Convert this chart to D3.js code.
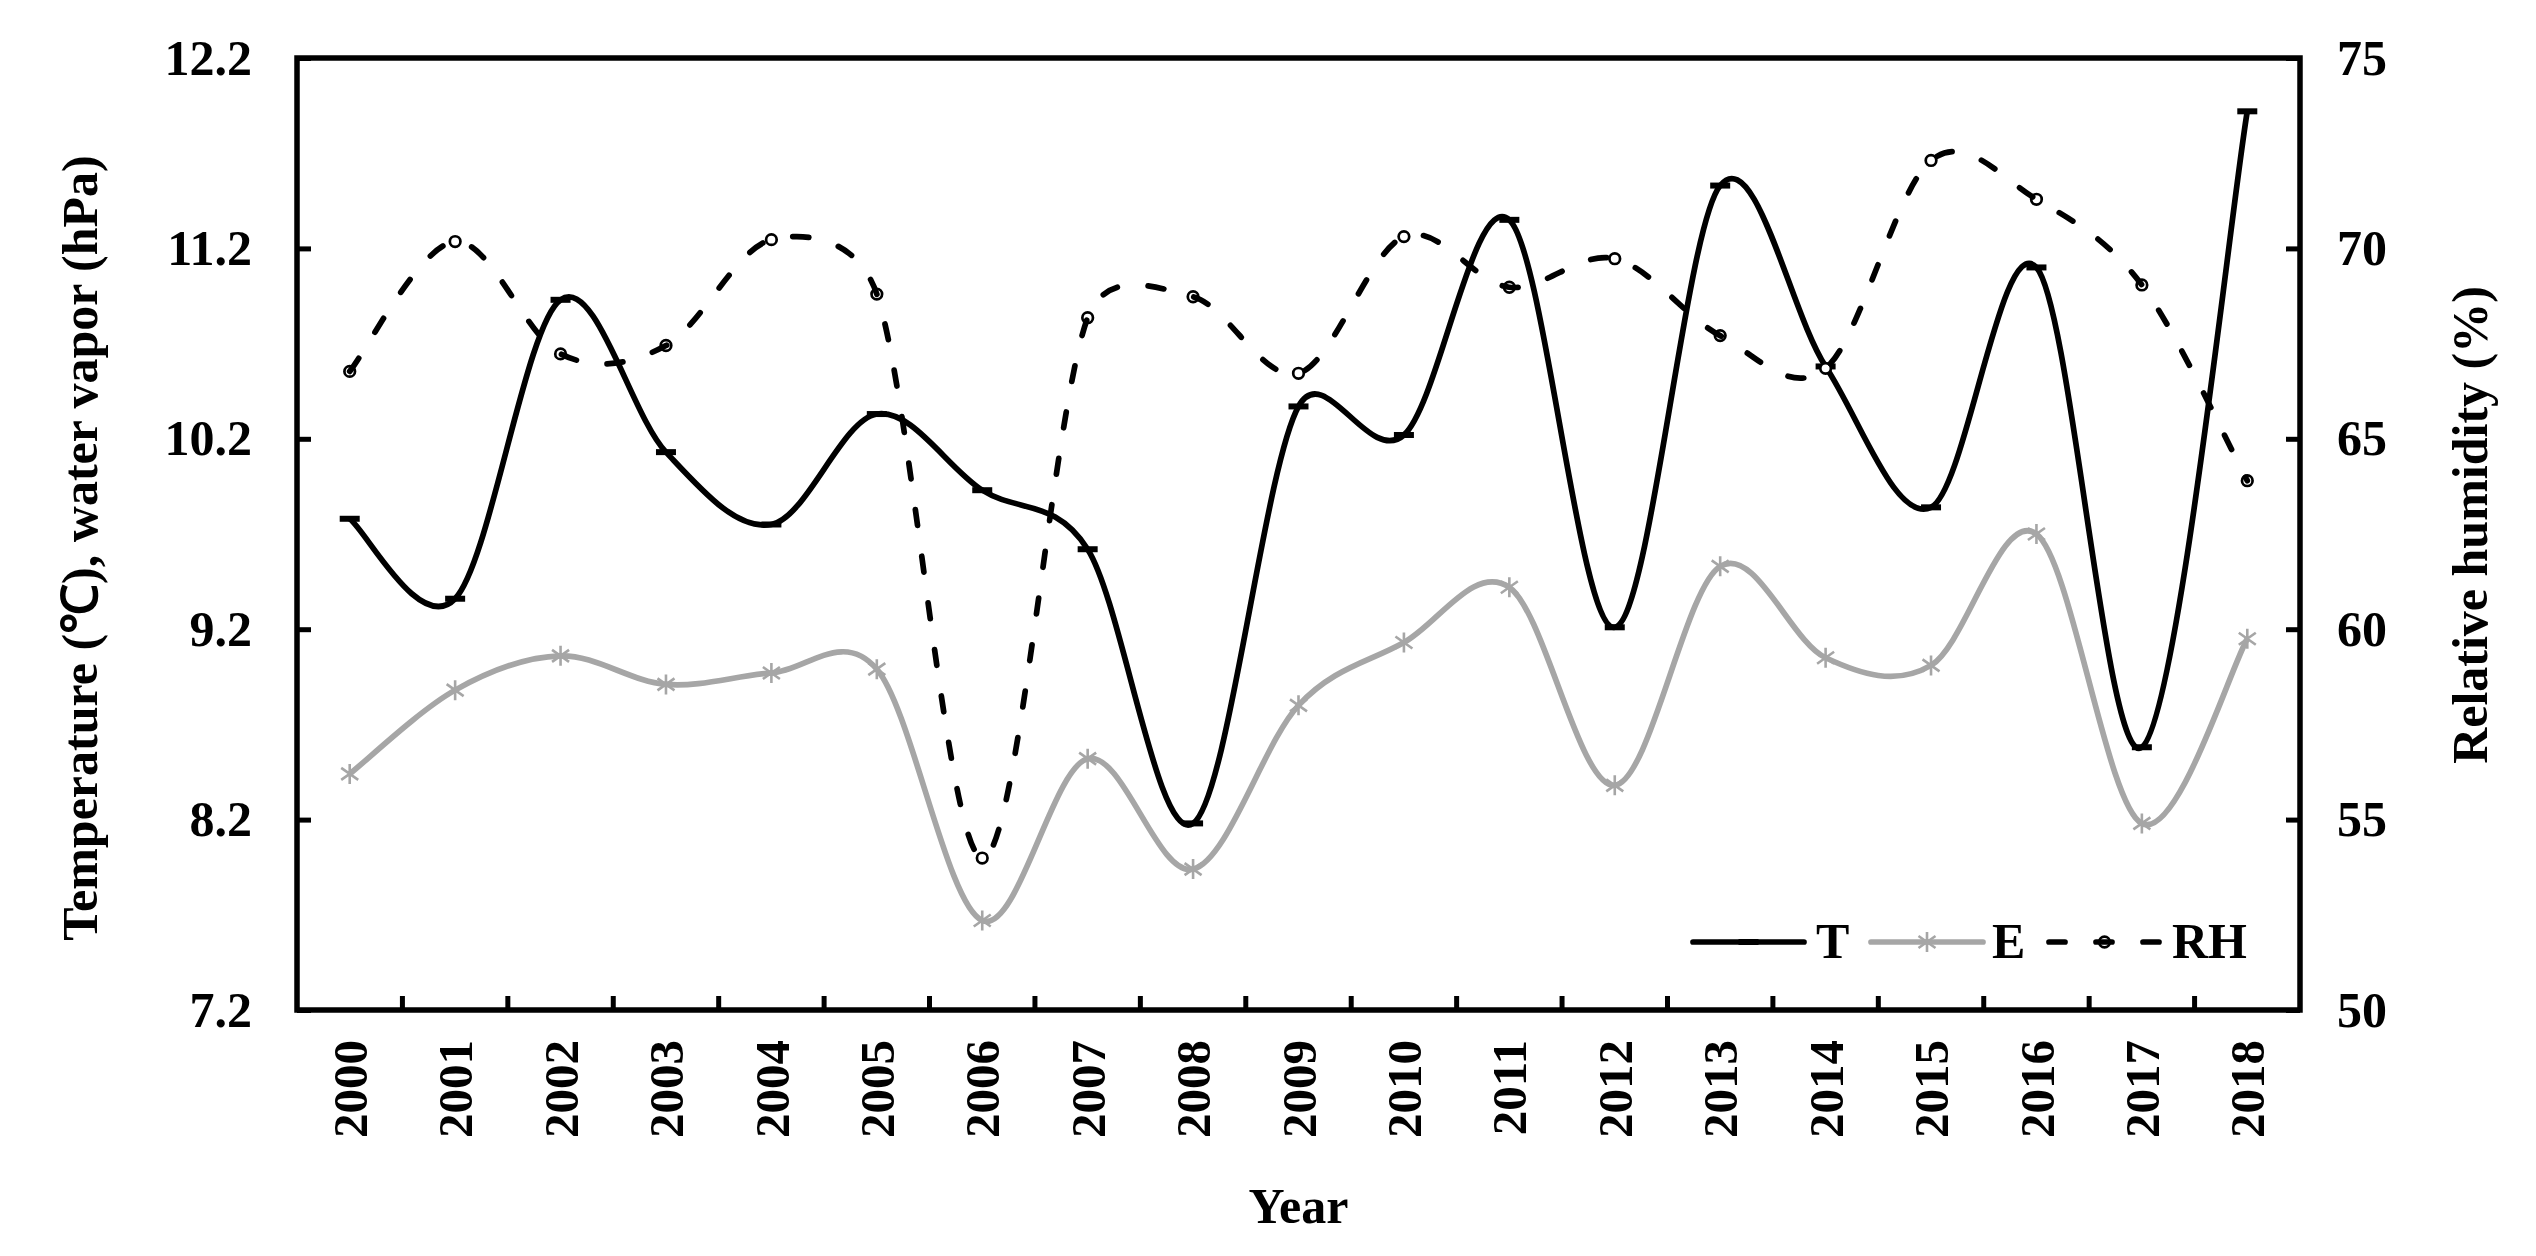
<!DOCTYPE html>
<html>
<head>
<meta charset="utf-8">
<script src="https://cdn.jsdelivr.net/npm/d3@7"></script>
<style>
  html, body { margin: 0; padding: 0; background: #fff; }
  text { font-family: "Liberation Serif", "Times New Roman", serif; font-weight: bold; fill: #000; }
</style>
</head>
<body>
<div id="chart"></div>
<script>
// data
const years = ["2000","2001","2002","2003","2004","2005","2006","2007","2008","2009",
               "2010","2011","2012","2013","2014","2015","2016","2017","2018"];
const tempT = [9.78, 9.36, 10.93, 10.13, 9.75, 10.33, 9.93, 9.62, 8.18, 10.37,
               10.22, 11.35, 9.21, 11.53, 10.58, 9.84, 11.10, 8.58, 11.92];
const vaporE = [8.44, 8.88, 9.06, 8.91, 8.97, 8.99, 7.67, 8.52, 7.94, 8.80,
                9.13, 9.42, 8.38, 9.53, 9.05, 9.01, 9.70, 8.18, 9.15];
const humidityRH = [66.77, 70.18, 67.23, 67.45, 70.23, 68.80, 53.99, 68.18, 68.73, 66.72,
                    70.31, 68.98, 69.73, 67.71, 66.85, 72.31, 71.29, 69.04, 63.90];
const leftTicks = [7.2, 8.2, 9.2, 10.2, 11.2, 12.2];
const rightTicks = [50, 55, 60, 65, 70, 75];

const width = 2536, height = 1256;
const plot = { left: 297, right: 2300, top: 58, bottom: 1010 };
const grey = "#a6a6a6";

// Excel-like smoothed line: cubic bezier, control arms 1/6, clamped to half the segment
function ExcelSmooth(context) { this._context = context; }
ExcelSmooth.prototype = {
  areaStart() {}, areaEnd() {},
  lineStart() { this._pts = []; },
  point(x, y) { this._pts.push([+x, +y]); },
  lineEnd() {
    const p = this._pts, c = this._context, n = p.length;
    if (!n) return;
    const dist = (a, b) => Math.hypot(b[0] - a[0], b[1] - a[1]);
    c.moveTo(p[0][0], p[0][1]);
    for (let i = 0; i < n - 1; i++) {
      const p0 = p[Math.max(i - 1, 0)], p1 = p[i], p2 = p[i + 1], p3 = p[Math.min(i + 2, n - 1)];
      const d12 = dist(p1, p2), d02 = dist(p0, p2), d13 = dist(p1, p3);
      const f = d02 / 6 < d12 / 2 ? 1 / 6 : d12 / (2 * d02);
      const g = d13 / 6 < d12 / 2 ? 1 / 6 : d12 / (2 * d13);
      c.bezierCurveTo(
        p1[0] + f * (p2[0] - p0[0]), p1[1] + f * (p2[1] - p0[1]),
        p2[0] - g * (p3[0] - p1[0]), p2[1] - g * (p3[1] - p1[1]),
        p2[0], p2[1]);
    }
  }
};
const curveExcel = ctx => new ExcelSmooth(ctx);

const svg = d3.select("#chart").append("svg")
  .attr("width", width)
  .attr("height", height);

svg.append("rect").attr("width", width).attr("height", height).attr("fill", "#fff");

// scales
const x = d3.scaleBand().domain(years).range([plot.left, plot.right]).padding(0);
const yL = d3.scaleLinear().domain([7.2, 12.2]).range([plot.bottom, plot.top]);
const yR = d3.scaleLinear().domain([50, 75]).range([plot.bottom, plot.top]);
const cx = d => x(d) + x.bandwidth() / 2;

// axes
const axisStyle = g => {
  g.select(".domain").remove();
  g.selectAll(".tick line").attr("stroke", "#000").attr("stroke-width", 5);
  g.selectAll(".tick text").attr("font-size", 50);
};

svg.append("g")
  .attr("transform", `translate(${plot.left},0)`)
  .call(d3.axisLeft(yL).tickValues(leftTicks).tickSize(-14).tickPadding(45).tickFormat(d3.format(".1f")))
  .call(axisStyle);

svg.append("g")
  .attr("transform", `translate(${plot.right},0)`)
  .call(d3.axisRight(yR).tickValues(rightTicks).tickSize(-14).tickPadding(37))
  .call(axisStyle);

const xAxis = svg.append("g")
  .attr("transform", `translate(0,${plot.bottom})`)
  .call(d3.axisBottom(x).tickSize(0))
  .call(axisStyle);
xAxis.selectAll(".tick text")
  .attr("font-size", 49)
  .attr("transform", "rotate(-90)")
  .attr("x", -30)
  .attr("y", 0)
  .attr("dy", "0.35em")
  .attr("text-anchor", "end");

// category separators (inward ticks on the bottom edge)
svg.append("g").selectAll("line")
  .data(years.slice(1))
  .join("line")
  .attr("x1", d => x(d)).attr("x2", d => x(d))
  .attr("y1", plot.bottom).attr("y2", plot.bottom - 14)
  .attr("stroke", "#000").attr("stroke-width", 5);

// axis titles
svg.append("text")
  .attr("transform", "translate(80,548) rotate(-90)")
  .attr("text-anchor", "middle")
  .attr("dominant-baseline", "central")
  .attr("font-size", 50)
  .text("Temperature (℃), water vapor (hPa)");

svg.append("text")
  .attr("transform", "translate(2470,525) rotate(-90)")
  .attr("text-anchor", "middle")
  .attr("dominant-baseline", "central")
  .attr("font-size", 50)
  .text("Relative humidity (%)");

svg.append("text")
  .attr("x", (plot.left + plot.right) / 2)
  .attr("y", 1223)
  .attr("text-anchor", "middle")
  .attr("font-size", 50)
  .text("Year");

// marker shapes
const dashMarker = (g, px, py) => g.append("rect")
  .attr("x", px - 10).attr("y", py - 3).attr("width", 20).attr("height", 6).attr("fill", "#000");
const starMarker = (g, px, py) => g.append("path")
  .attr("transform", `translate(${px},${py})`)
  .attr("d", "M0,-10V10M-8.5,-6L8.5,6M-8.5,6L8.5,-6")
  .attr("stroke", grey).attr("stroke-width", 2.6).attr("fill", "none");
const circleMarker = (g, px, py) => g.append("circle")
  .attr("cx", px).attr("cy", py).attr("r", 5.3)
  .attr("fill", "#fff").attr("stroke", "#000").attr("stroke-width", 2.7);

const series = [
  { name: "T", values: tempT, y: yL, stroke: "#000", dash: null, marker: dashMarker },
  { name: "E", values: vaporE, y: yL, stroke: grey, dash: null, marker: starMarker },
  { name: "RH", values: humidityRH, y: yR, stroke: "#000", dash: "16,31", marker: circleMarker }
];

const plotG = svg.append("g");
series.forEach(s => {
  const g = plotG.append("g");
  s.values.forEach((v, i) => s.marker(g, cx(years[i]), s.y(v)));
  const line = d3.line()
    .x((d, i) => cx(years[i]))
    .y(d => s.y(d))
    .curve(curveExcel);
  g.append("path")
    .attr("d", line(s.values))
    .attr("fill", "none")
    .attr("stroke", s.stroke)
    .attr("stroke-width", 5.7)
    .attr("stroke-linecap", s.dash ? "round" : "butt")
    .attr("stroke-linejoin", "round")
    .attr("stroke-dasharray", s.dash);
});

// legend
const legendY = 942;
const legendItems = [
  { s: series[0], x0: 1693, x1: 1804, tx: 1816 },
  { s: series[1], x0: 1871, x1: 1983, tx: 1992 },
  { s: series[2], x0: 2049, x1: 2160, tx: 2172 }
];
const legend = svg.append("g");
legendItems.forEach(it => {
  const g = legend.append("g");
  it.s.marker(g, (it.x0 + it.x1) / 2, legendY);
  g.append("line")
    .attr("x1", it.x0).attr("x2", it.x1)
    .attr("y1", legendY).attr("y2", legendY)
    .attr("stroke", it.s.stroke)
    .attr("stroke-width", 5.7)
    .attr("stroke-linecap", "round")
    .attr("stroke-dasharray", it.s.dash);
  g.append("text")
    .attr("x", it.tx).attr("y", legendY + 16)
    .attr("font-size", 50)
    .text(it.s.name);
});

// plot frame
svg.append("rect")
  .attr("x", plot.left).attr("y", plot.top)
  .attr("width", plot.right - plot.left).attr("height", plot.bottom - plot.top)
  .attr("fill", "none").attr("stroke", "#000").attr("stroke-width", 5.5);
</script>
</body>
</html>
